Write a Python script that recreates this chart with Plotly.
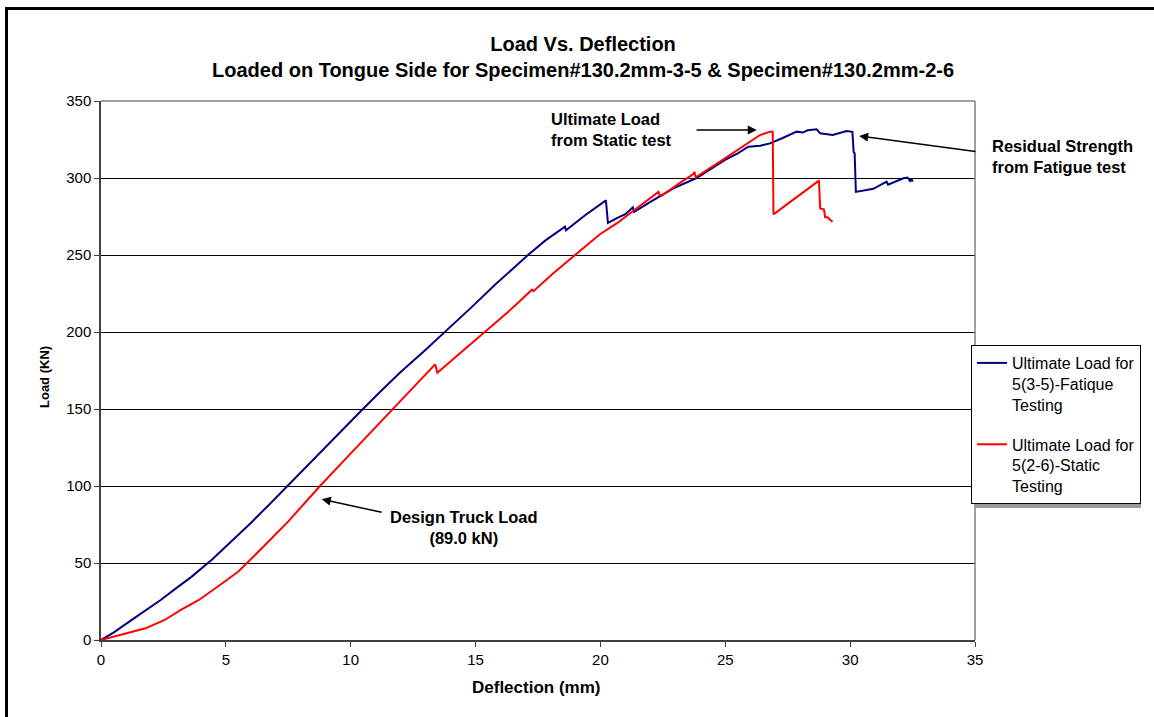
import plotly.graph_objects as go

# Fatigue specimen 5(3-5): deflection (mm) / load (kN)
fatigue_defl = [0, 0.5, 1.32, 2.39, 3.0, 3.62, 4.46, 5.2, 6.0, 6.8, 7.43, 8.5, 9.5, 10.4,
                11.17, 12.0, 13.0, 13.78, 14.8, 15.8, 17.1, 17.8, 18.58, 18.62, 19.4, 20.22,
                20.3, 20.66, 21.0, 21.3, 21.35, 22.0, 22.92, 23.85, 24.99, 25.5, 25.92, 26.4,
                26.79, 27.3, 27.86, 28.1, 28.3, 28.66, 28.8, 29.3, 29.86, 30.09, 30.14, 30.18,
                30.23, 30.93, 31.46, 31.52, 32.13, 32.3, 32.4, 32.46, 32.5]
fatigue_load = [0, 4.8, 14, 26, 33.5, 41, 52.5, 63.5, 76, 89, 99.5, 117, 133.5, 148.5,
                161, 174, 188.5, 200, 215.5, 231, 250, 259.5, 268.4, 266, 276, 285.5,
                270.8, 274, 276.5, 281, 278, 284.5, 293.3, 300, 311.7, 316, 320.3, 321,
                322.5, 326, 330.1, 329.5, 331, 331.6, 329, 327.9, 330.5, 330, 317, 316,
                291, 293, 297.6, 295.6, 299.8, 300.3, 298, 299.5, 297.6]

# Static specimen 5(2-6)
static_defl = [0, 0.8, 1.78, 2.55, 3.2, 3.92, 4.5, 5.0, 5.5, 5.92, 6.5, 7.5, 8.77, 9.7,
               10.7, 11.68, 12.5, 13.2, 13.38, 13.47, 14.4, 15.38, 16.3, 17.26, 17.32, 18.1,
               18.98, 19.98, 20.65, 21.59, 22.32, 22.36, 22.45, 23.2, 23.72, 23.76, 23.82,
               24.79, 25.86, 26.39, 26.79, 26.9, 26.93, 28.75, 28.8, 28.95, 29.0, 29.1,
               29.2, 29.3]
static_load = [0, 3.5, 7.6, 13, 19.5, 26, 32.5, 38.5, 44.5, 51, 60.5, 77, 100, 116,
               133, 150, 164, 176, 179, 173.6, 186.5, 200, 213, 227.5, 226.5, 238,
               250, 263.5, 270.5, 281.8, 291, 289, 288.5, 297, 302.5, 304, 300.5,
               310.6, 322.5, 327.9, 330.1, 330, 276.4, 298.3, 280.3, 279.6, 274.5, 274.5,
               272.7, 271.6]

x_ticks = [0, 5, 10, 15, 20, 25, 30, 35]
y_ticks = [0, 50, 100, 150, 200, 250, 300, 350]

FONT = "Arial, 'Liberation Sans', sans-serif"

fig = go.Figure()
fig.add_trace(go.Scatter(x=fatigue_defl, y=fatigue_load, mode="lines",
                         line=dict(color="#000080", width=2),
                         name="Ultimate Load for<br>5(3-5)-Fatique<br>Testing",
                         legendgroup="a"))
fig.add_trace(go.Scatter(x=static_defl, y=static_load, mode="lines",
                         line=dict(color="#FF0000", width=2),
                         name="Ultimate Load for<br>5(2-6)-Static<br>Testing",
                         legendgroup="b"))

W, H = 1154, 717
L, R, T, B = 101, 179, 101, 77
pw, ph = W - L - R, H - T - B

def px(xp):
    return (xp - L) / pw

def py(yp):
    return (H - B - yp) / ph

annotations = [
    dict(text="<b>Load Vs. Deflection<br>Loaded on Tongue Side for Specimen#130.2mm-3-5 &amp; Specimen#130.2mm-2-6</b>",
         xref="paper", yref="paper", x=px(583), y=py(57), xanchor="center", yanchor="middle",
         showarrow=False, font=dict(size=20, color="black", family=FONT)),
    dict(text="<b>Load (KN)</b>", textangle=-90, xref="paper", yref="paper",
         x=px(44), y=py(377), xanchor="center", yanchor="middle", showarrow=False,
         font=dict(size=13, color="black", family=FONT)),
    dict(text="<b>Deflection (mm)</b>", xref="paper", yref="paper",
         x=px(536), y=py(687), xanchor="center", yanchor="middle", showarrow=False,
         font=dict(size=17, color="black", family=FONT)),
    dict(text="<b>Ultimate Load<br>from Static test</b>", xref="paper", yref="paper",
         x=px(549), y=py(129.5), xanchor="left", yanchor="middle", align="left", showarrow=False,
         font=dict(size=16.5, color="black", family=FONT)),
    dict(text="<b>Residual Strength<br>from Fatigue test</b>", xref="paper", yref="paper",
         x=px(990), y=py(156), xanchor="left", yanchor="middle", align="left", showarrow=False,
         font=dict(size=16.5, color="black", family=FONT)),
    dict(text="<b>Design Truck Load<br>(89.0 kN)</b>", xref="paper", yref="paper",
         x=px(464), y=py(527.5), xanchor="center", yanchor="middle", align="center", showarrow=False,
         font=dict(size=16.5, color="black", family=FONT)),
    # arrows
    dict(text="", xref="x", yref="y", axref="x", ayref="y", x=26.26, y=331.2, ax=23.79, ay=331.2,
         showarrow=True, arrowhead=2, arrowsize=1.2, arrowwidth=1.5, arrowcolor="black"),
    dict(text="", xref="x", yref="y", axref="x", ayref="y", x=30.36, y=327.3, ax=35.08, ay=317,
         showarrow=True, arrowhead=2, arrowsize=1.2, arrowwidth=1.5, arrowcolor="black"),
    dict(text="", xref="x", yref="y", axref="x", ayref="y", x=8.84, y=91.4, ax=11.3, ay=82.7,
         showarrow=True, arrowhead=2, arrowsize=1.2, arrowwidth=1.5, arrowcolor="black"),
]

shapes = [
    # plot-area border (top and right, grey)
    dict(type="line", xref="paper", yref="paper", x0=0, x1=1, y0=1, y1=1,
         line=dict(color="#808080", width=1.5), layer="above"),
    dict(type="line", xref="paper", yref="paper", x0=1, x1=1, y0=0, y1=1,
         line=dict(color="#808080", width=1.5), layer="above"),
    # legend shadow
    dict(type="rect", xref="paper", yref="paper", x0=px(974), x1=px(1141), y0=py(508), y1=py(348),
         line=dict(width=0), fillcolor="#9a9a9a", layer="above"),
    # outer chart frame
    dict(type="rect", xref="paper", yref="paper", x0=px(6.5), x1=px(1200), y0=py(760), y1=py(8.5),
         line=dict(color="black", width=3), layer="above"),
]

fig.update_layout(
    width=W, height=H,
    margin=dict(l=L, r=R, t=T, b=B, autoexpand=False),
    paper_bgcolor="white", plot_bgcolor="white",
    font=dict(family=FONT, size=15, color="black"),
    showlegend=True,
    legend=dict(x=px(971), y=py(345), xanchor="left", yanchor="top",
                bordercolor="black", borderwidth=1, bgcolor="white",
                font=dict(size=16, family=FONT, color="black"),
                traceorder="grouped", tracegroupgap=16, valign="top",
                itemwidth=30),
    annotations=annotations,
    shapes=shapes,
)
fig.update_xaxes(range=[0, 35], tickvals=x_ticks, showgrid=False, zeroline=False,
                 showline=True, linecolor="#404040", linewidth=1.5,
                 ticks="outside", ticklen=5, tickcolor="#404040",
                 tickfont=dict(size=15, family=FONT, color="black"))
fig.update_yaxes(range=[0, 350], tickvals=y_ticks, showgrid=True, gridcolor="black", gridwidth=1,
                 zeroline=False, showline=True, linecolor="#404040", linewidth=1.5,
                 ticks="outside", ticklen=5, tickcolor="#404040",
                 tickfont=dict(size=15, family=FONT, color="black"))

fig.write_html("out.html", config={"displayModeBar": False},
               post_script="document.body.style.margin='0px';")
